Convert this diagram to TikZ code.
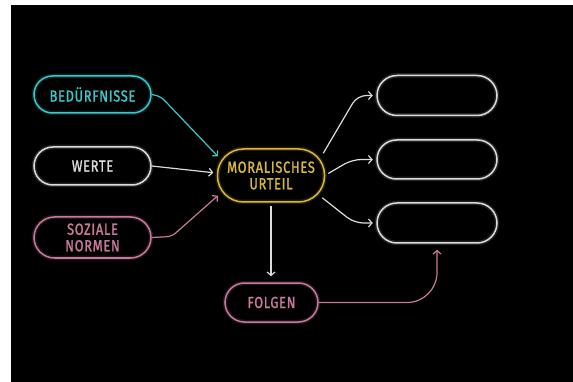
\documentclass[tikz,border=0pt]{standalone}
\usepackage{fontspec}
\setmainfont{Fira Sans}[FakeStretch=0.8,LetterSpace=4.5,FakeBold=1.3]
\usetikzlibrary{arrows.meta}
\definecolor{cyanline}{HTML}{3CC8C8}
\definecolor{pinkline}{HTML}{C87A9C}
\definecolor{goldline}{HTML}{D8B83C}
\definecolor{greyline}{HTML}{DCDCDC}
\begin{document}
\begin{tikzpicture}[x=1pt,y=-1pt,
  glow/.style={preaction={draw,line width=4.5pt,opacity=0.16}},
  pill/.style={draw,glow,line width=1.5pt,rounded corners=#1,inner sep=0pt,
    align=center,font=\fontsize{16}{16.5}\selectfont},
  link/.style={glow,line width=1.2pt,rounded corners=#1,
    -{Straight Barb[length=3.5pt,width=8pt]}},
  link/.default=5pt
]
% canvas
\useasboundingbox (0,0) rectangle (573,382);
\fill[white] (0,0) rectangle (573,382);
\fill[black] (11,5) rectangle (573,382);

% inputs
\node[pill=18.5pt,draw=cyanline,text=cyanline,minimum width=117pt,minimum height=37pt]
  (bed) at (92.5,94.5) {BEDÜRFNISSE};
\node[pill=19pt,draw=greyline,text=greyline,minimum width=117pt,minimum height=38pt]
  (wer) at (92.5,166) {WERTE};
\node[pill=20.5pt,draw=pinkline,text=pinkline,minimum width=117pt,minimum height=41pt]
  (soz) at (92.5,237.5) {SOZIALE\\NORMEN};

% judgement
\node[pill=26pt,draw=goldline,text=goldline,minimum width=107pt,minimum height=53pt]
  (moral) at (271,175.5) {MORALISCHES\\URTEIL};

% empty outcome boxes
\node[pill=20pt,draw=greyline,minimum width=120pt,minimum height=40pt] (r1) at (437,95.5) {};
\node[pill=19.5pt,draw=greyline,minimum width=120pt,minimum height=39pt] (r2) at (437,159.5) {};
\node[pill=20pt,draw=greyline,minimum width=120pt,minimum height=40pt] (r3) at (437,223) {};

% consequences
\node[pill=19.5pt,draw=pinkline,text=pinkline,minimum width=93pt,minimum height=39pt]
  (fol) at (271.5,302.5) {FOLGEN};

% incoming connectors
\draw[link,cyanline] (bed.east) -- ++(9,2) -- ([shift={(1,8)}]moral.north west);
\draw[link,greyline] (wer.east) -- ([shift={(-3.5,-2.8)}]moral.west);
\draw[link,pinkline] (soz.east) -- ++(20,-1) -- ([shift={(1,-7)}]moral.south west);

% outgoing connectors
\draw[link=9pt,greyline] ([shift={(-2,5)}]moral.north east)
  -- ([shift={(-19,0)}]r1.west) -- ([shift={(-3.5,0)}]r1.west);
\draw[link=9pt,greyline] ([shift={(3,-2)}]moral.east)
  -- ([shift={(-24,0)}]r2.west) -- ([shift={(-3.5,0)}]r2.west);
\draw[link=9pt,greyline] ([shift={(-3,-5)}]moral.south east)
  -- ([shift={(-22,0)}]r3.west) -- ([shift={(-3.5,0)}]r3.west);

\draw[link,greyline] ([shift={(0,3)}]moral.south) -- ([shift={(0,-6)}]moral.south |- fol.north);
\draw[link=30pt,pinkline] (fol.east) -- (r3.south |- fol.east) -- ([shift={(0,6)}]r3.south);
\end{tikzpicture}
\end{document}
